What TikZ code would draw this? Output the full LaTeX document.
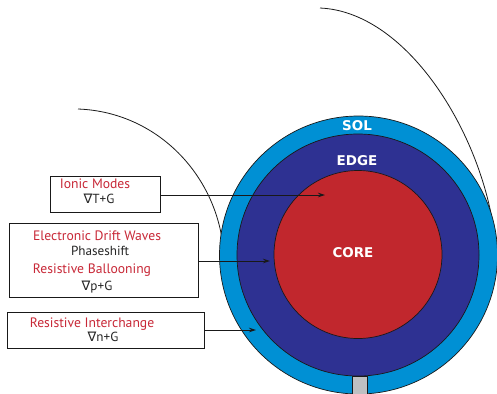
\documentclass[tikz,border=0pt]{standalone}
\usepackage{fontspec}
\setmainfont{PT Sans}
\newfontfamily\labelfont{DejaVu Sans}
\usetikzlibrary{arrows.meta}
\definecolor{solblue}{RGB}{0,144,212}
\definecolor{edgeblue}{RGB}{46,49,146}
\definecolor{corered}{RGB}{193,39,45}
\definecolor{modered}{RGB}{200,40,55}
\definecolor{portgray}{RGB}{190,192,194}
\tikzset{
  modebox/.style={draw=black!90, line width=0.9bp, fill=white, inner sep=0pt, anchor=north west},
  modename/.style={text=modered, font=\fontsize{13.7}{14}\selectfont, inner sep=0pt},
  modeinfo/.style={text=black!85, font=\fontsize{13.2}{14}\selectfont, inner sep=0pt},
  region/.style={draw=black!90, line width=0.7bp},
  regionlabel/.style={text=white, font=\labelfont\bfseries\fontsize{13.5}{14}\selectfont, inner sep=0pt},
  pointer/.style={draw=black!90, line width=0.9bp, -{Stealth[length=7bp,width=4.5bp]}},
  fieldline/.style={draw=black!90, line width=0.8bp}
}
\newcommand{\grad}{{\labelfont\char"2207}}
\begin{document}
\begin{tikzpicture}[x=1bp,y=-1bp]
\useasboundingbox (0,0) rectangle (497,393);
\clip (0,0) rectangle (497,393);
% field lines behind the plasma cross-section
\draw[fieldline] (78,109) .. controls (160,112) and (222,180) .. (224,260);
\draw[fieldline] (320,8) .. controls (410,12) and (485,140) .. (495,240);
% nested plasma regions
\node[region, circle, fill=solblue, minimum size=278bp, inner sep=0pt] (sol) at (358.5,255) {};
\node[region, circle, fill=edgeblue, minimum size=242bp, inner sep=0pt] (edge) at (358,255) {};
\node[region, circle, fill=corered, minimum size=168bp, inner sep=0pt] (core) at (358,254.5) {};
\draw[region, fill=portgray] (352,395) rectangle (367,376);
\node[regionlabel] (sollbl) at (357,126) {SOL};
\node[regionlabel] (edgelbl) at (357,161) {EDGE};
\node[regionlabel] (corelbl) at (353,253) {CORE};
% mode boxes
\node[modebox, minimum width=110bp, minimum height=36bp] (ionic) at (50,176) {};
\node[modebox, minimum width=189bp, minimum height=74bp] (drift) at (9,223) {};
\node[modebox, minimum width=197bp, minimum height=36bp] (interchange) at (7,312) {};
\node[modename] (t1) at (95,184) {Ionic Modes};
\node[modeinfo] (t2) at (99,199) {\grad T+G};
\node[modename] (t3) at (97,236) {Electronic Drift Waves};
\node[modeinfo] (t4) at (100,251) {Phaseshift};
\node[modename] (t5) at (92,270) {Resistive Ballooning};
\node[modeinfo] (t6) at (97,287) {\grad p+G};
\node[modename] (t7) at (92,324) {Resistive Interchange};
\node[modeinfo] (t8) at (103,337) {\grad n+G};
% pointers into the regions
\coordinate (ionicEnd) at (325,195);
\coordinate (driftEnd) at (270,261);
\coordinate (interEnd) at (256,330);
\draw[pointer] (ionic.east |- ionicEnd) -- (ionicEnd);
\draw[pointer] (drift.east |- driftEnd) -- (driftEnd);
\draw[pointer] (interchange.east |- interEnd) -- (interEnd);
\end{tikzpicture}
\end{document}
